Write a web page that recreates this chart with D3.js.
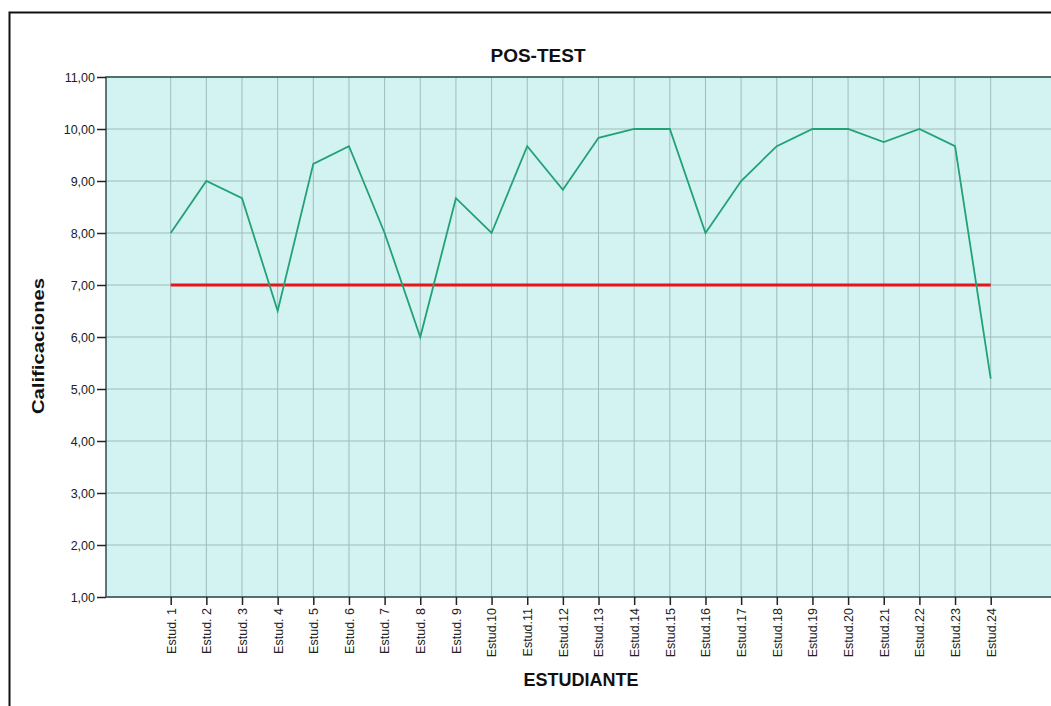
<!DOCTYPE html>
<html>
<head>
<meta charset="utf-8">
<script src="https://cdn.jsdelivr.net/npm/d3@7"></script>
<style>
  body { margin: 0; background: #fff; }
  svg { display: block; font-family: "Liberation Sans", Arial, sans-serif; }
</style>
</head>
<body>
<div id="chart"></div>
<script>
// data
const students = ['Estud. 1','Estud. 2','Estud. 3','Estud. 4','Estud. 5','Estud. 6','Estud. 7','Estud. 8','Estud. 9',
	'Estud.10','Estud.11','Estud.12','Estud.13','Estud.14','Estud.15','Estud.16','Estud.17','Estud.18',
	'Estud.19','Estud.20','Estud.21','Estud.22','Estud.23','Estud.24'];
const grades = [8.00, 9.00, 8.67, 6.50, 9.33, 9.67, 8.00, 6.00, 8.67, 8.00, 9.67, 8.83,
	9.83, 10.00, 10.00, 8.00, 9.00, 9.67, 10.00, 10.00, 9.75, 10.00, 9.67, 5.20];
const passMark = 7.00;
const yTicks = [1, 2, 3, 4, 5, 6, 7, 8, 9, 10, 11];

const W = 1051, H = 706;
const plotLeft = 106, plotTop = 77, plotBottom = 597, plotRight = 1060;

const svg = d3.select('#chart')
	.append('svg')
	.attr('width', W)
	.attr('height', H);

// outer frame (cropped on right/bottom)
svg.append('rect')
	.attr('x', 9.5)
	.attr('y', 12.5)
	.attr('width', 1100)
	.attr('height', 800)
	.style('fill', 'none')
	.style('stroke', '#111')
	.style('stroke-width', '2px');

const x = d3.scalePoint()
	.domain(students)
	.range([170.7, 990.7]);

const y = d3.scaleLinear()
	.domain([1, 11])
	.range([plotBottom, plotTop]);

// plot background
svg.append('rect')
	.attr('x', plotLeft)
	.attr('y', plotTop)
	.attr('width', plotRight - plotLeft)
	.attr('height', plotBottom - plotTop)
	.style('fill', '#d3f3f2');

// grid
svg.append('g')
	.selectAll('line')
	.data(yTicks)
	.join('line')
	.attr('x1', plotLeft)
	.attr('x2', plotRight)
	.attr('y1', d => y(d))
	.attr('y2', d => y(d))
	.style('stroke', '#9dbcbb')
	.style('stroke-width', '1px');

svg.append('g')
	.selectAll('line')
	.data(students)
	.join('line')
	.attr('x1', d => x(d))
	.attr('x2', d => x(d))
	.attr('y1', plotTop)
	.attr('y2', plotBottom)
	.style('stroke', '#9dbcbb')
	.style('stroke-width', '1px');

// plot border
svg.append('rect')
	.attr('x', plotLeft)
	.attr('y', plotTop)
	.attr('width', plotRight - plotLeft)
	.attr('height', plotBottom - plotTop)
	.style('fill', 'none')
	.style('stroke', '#2f4b4b')
	.style('stroke-width', '1.5px');

// y axis
const yAxis = d3.axisLeft(y)
	.tickValues(yTicks)
	.tickSize(9)
	.tickPadding(2)
	.tickFormat(d => d3.format('.2f')(d).replace('.', ','));

const gy = svg.append('g')
	.attr('transform', `translate(${plotLeft},0)`)
	.call(yAxis);
gy.select('.domain').remove();
gy.selectAll('.tick line').style('stroke', '#222').style('stroke-width', '1.5px');
gy.selectAll('.tick text')
	.style('font-size', '12.5px')
	.style('fill', '#222')
	.style('font-family', '"Liberation Sans", Arial, sans-serif');

// x axis
const xAxis = d3.axisBottom(x)
	.tickSize(8)
	.tickPadding(3);

const gx = svg.append('g')
	.attr('transform', `translate(0,${plotBottom})`)
	.call(xAxis);
gx.select('.domain').remove();
gx.selectAll('.tick line').style('stroke', '#222').style('stroke-width', '1.5px');
gx.selectAll('.tick text')
	.attr('transform', 'rotate(-90)')
	.attr('x', -11)
	.attr('y', 0)
	.attr('dy', '0.35em')
	.style('text-anchor', 'end')
	.style('font-size', '12.5px')
	.style('fill', '#222')
	.style('font-family', '"Liberation Sans", Arial, sans-serif');

// pass mark line
svg.append('line')
	.attr('x1', x(students[0]))
	.attr('x2', x(students[students.length - 1]))
	.attr('y1', y(passMark))
	.attr('y2', y(passMark))
	.style('stroke', '#e8141a')
	.style('stroke-width', '3px');

// grades line
const line = d3.line()
	.x((d, i) => x(students[i]))
	.y(d => y(d));

svg.append('path')
	.datum(grades)
	.attr('d', line)
	.style('fill', 'none')
	.style('stroke', '#22a276')
	.style('stroke-width', '1.8px');

// titles
svg.append('text')
	.attr('x', 538)
	.attr('y', 62)
	.attr('text-anchor', 'middle')
	.style('font-size', '19px')
	.style('font-weight', 'bold')
	.style('fill', '#111')
	.text('POS-TEST');

svg.append('text')
	.attr('x', 581)
	.attr('y', 686)
	.attr('text-anchor', 'middle')
	.style('font-size', '18px')
	.style('font-weight', 'bold')
	.style('fill', '#111')
	.text('ESTUDIANTE');

svg.append('text')
	.attr('transform', 'translate(44,346) rotate(-90)')
	.attr('text-anchor', 'middle')
	.attr('textLength', 136)
	.attr('lengthAdjust', 'spacingAndGlyphs')
	.style('font-size', '16px')
	.style('font-weight', 'bold')
	.style('fill', '#111')
	.text('Calificaciones');
</script>
</body>
</html>
